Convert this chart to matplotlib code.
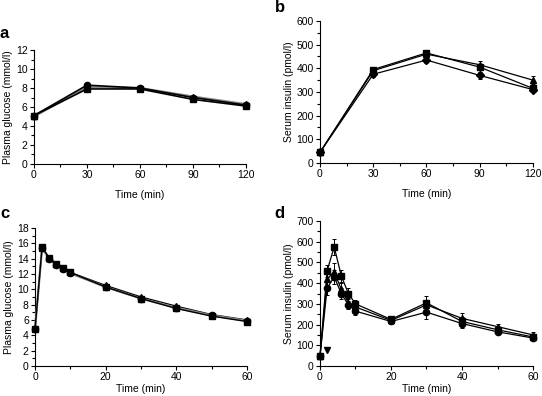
import numpy as np
import matplotlib
matplotlib.use('Agg')
import matplotlib.pyplot as plt

plt.rcParams['font.family'] = ['Liberation Sans', 'DejaVu Sans']
plt.rcParams['font.size'] = 7.5

# Panel a: plasma glucose, OGTT
t_a = [0, 30, 60, 90, 120]
a_sq = [5.1, 7.9, 7.9, 6.8, 6.1]
a_tri = [5.0, 8.1, 8.0, 7.1, 6.3]
a_ci = [5.1, 8.3, 8.0, 7.0, 6.2]

# Panel b: serum insulin, OGTT
t_b = [0, 30, 60, 90, 120]
b_sq = [45, 395, 465, 405, 315]
b_sq_err = [8, 12, 12, 14, 14]
b_tri = [45, 390, 460, 415, 350]
b_tri_err = [8, 12, 12, 18, 16]
b_di = [45, 375, 435, 370, 310]
b_di_err = [8, 12, 14, 14, 12]

# Panel c: plasma glucose, IVGTT
t_c = [0, 2, 4, 6, 8, 10, 20, 30, 40, 50, 60]
c_sq = [4.8, 15.5, 14.1, 13.3, 12.8, 12.2, 10.3, 8.8, 7.5, 6.5, 5.8]
c_tri = [4.9, 15.4, 14.1, 13.3, 12.8, 12.2, 10.5, 9.0, 7.8, 6.7, 6.0]
c_ci = [4.8, 15.4, 14.0, 13.2, 12.7, 12.1, 10.3, 8.8, 7.6, 6.6, 5.9]

# Panel d: serum insulin, IVGTT
t_d = [0, 2, 4, 6, 8, 10, 20, 30, 40, 50, 60]
d_sq = [48, 460, 575, 435, 350, 300, 225, 305, 215, 175, 140]
d_sq_err = [6, 30, 40, 30, 25, 20, 12, 35, 20, 15, 12]
d_tri = [48, 420, 455, 370, 305, 285, 220, 295, 230, 190, 150]
d_tri_err = [6, 35, 40, 30, 25, 20, 12, 25, 25, 15, 12]
d_ci = [48, 375, 430, 350, 295, 265, 215, 260, 205, 165, 135]
d_ci_err = [6, 30, 35, 25, 20, 20, 12, 35, 20, 12, 10]
d_mark_t = [2]
d_mark_y = [75]

fig = plt.figure(figsize=(5.42, 3.96), dpi=100)


def style(ax, xmax, xmajor, xminor, ymax, ymajor, yminor):
    ax.spines['top'].set_visible(False)
    ax.spines['right'].set_visible(False)
    ax.spines['left'].set_linewidth(0.8)
    ax.spines['bottom'].set_linewidth(0.8)
    ax.set_xlim(0, xmax)
    ax.set_ylim(0, ymax)
    ax.set_xticks(np.arange(0, xmax + 0.1, xmajor))
    ax.set_xticks(np.arange(0, xmax + 0.1, xminor), minor=True)
    ax.set_yticks(np.arange(0, ymax + 0.1, ymajor))
    ax.set_yticks(np.arange(0, ymax + 0.1, yminor), minor=True)
    ax.tick_params(which='major', length=3, width=0.8, pad=1.5, labelsize=7.5)
    ax.tick_params(which='minor', length=2, width=0.8)


def series(ax, t, y, marker, color='black', err=None, ms=4.5, lw=1.0):
    if err is not None:
        ax.errorbar(t, y, yerr=err, fmt='none', ecolor='black', elinewidth=0.7,
                    capsize=1.5, capthick=0.7, clip_on=False, zorder=2)
    ax.plot(t, y, color=color, lw=lw, marker=marker, ms=ms, mfc='black',
            mec='black', clip_on=False, zorder=3)


# a
ax = fig.add_axes([0.0627, 0.5859, 0.391, 0.2878])
style(ax, 120, 30, 15, 12, 2, 1)
series(ax, t_a, a_tri, '^', color='#888888', lw=1.6)
series(ax, t_a, a_ci, 'o', lw=1.2)
series(ax, t_a, a_sq, 's', lw=1.2)
ax.set_xlabel('Time (min)', labelpad=7)
ax.set_ylabel('Plasma glucose (mmol/l)', labelpad=2)
fig.text(0.0, 0.915, 'a', fontsize=12, fontweight='bold', va='center')

# b
ax = fig.add_axes([0.5904, 0.5884, 0.393, 0.3586])
style(ax, 120, 30, 15, 600, 100, 50)
series(ax, t_b, b_tri, '^', err=b_tri_err, lw=0.9)
series(ax, t_b, b_di, 'D', err=b_di_err, ms=4, lw=0.9)
series(ax, t_b, b_sq, 's', err=b_sq_err, lw=0.9)
ax.set_xlabel('Time (min)', labelpad=7)
ax.set_ylabel('Serum insulin (pmol/l)', labelpad=2)
fig.text(0.507, 0.982, 'b', fontsize=12, fontweight='bold', va='center')

# c
ax = fig.add_axes([0.0646, 0.0758, 0.391, 0.3485])
style(ax, 60, 20, 10, 18, 2, 1)
series(ax, t_c, c_tri, '^', lw=1.0)
series(ax, t_c, c_ci, 'o', color='#888888', lw=1.6)
series(ax, t_c, c_sq, 's', lw=1.0)
ax.set_xlabel('Time (min)', labelpad=1)
ax.set_ylabel('Plasma glucose (mmol/l)', labelpad=2)
fig.text(0.0, 0.462, 'c', fontsize=12, fontweight='bold', va='center')

# d
ax = fig.add_axes([0.5904, 0.0758, 0.393, 0.366])
style(ax, 60, 20, 10, 700, 100, 50)
series(ax, t_d, d_tri, '^', err=d_tri_err, lw=0.9)
series(ax, t_d, d_ci, 'o', err=d_ci_err, lw=0.9)
series(ax, t_d, d_sq, 's', err=d_sq_err, lw=0.9)
ax.plot(d_mark_t, d_mark_y, 'v', color='black', ms=4, clip_on=False)
ax.set_xlabel('Time (min)', labelpad=1)
ax.set_ylabel('Serum insulin (pmol/l)', labelpad=2)
fig.text(0.507, 0.462, 'd', fontsize=12, fontweight='bold', va='center')

fig.savefig('out.png', dpi=100)
